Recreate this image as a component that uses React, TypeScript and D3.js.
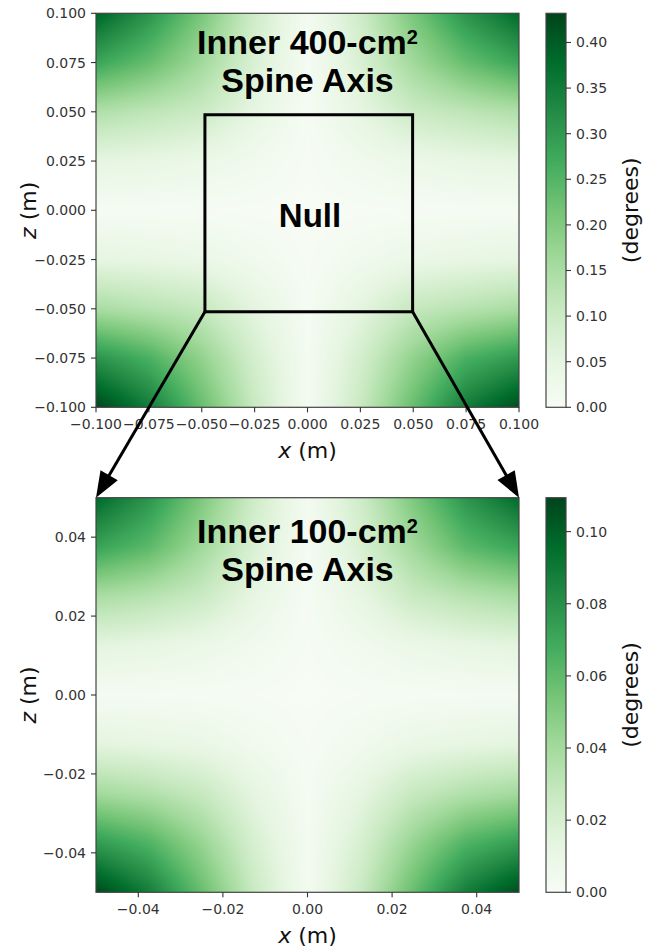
import React, { useMemo } from 'react';
import * as d3 from 'd3';

const WIDTH = 658;
const HEIGHT = 952;

// Brewer "Greens" ramp, evenly spaced from 0 to vmax
const GREENS = ['#f7fcf5', '#e5f5e0', '#c7e9c0', '#a1d99b', '#74c476', '#41ab5d', '#238b45', '#006d2c', '#00441b'];

// Outer 400-cm² field (degrees); rows run from z = +0.1 down to z = -0.1
const OUTER_X = [-0.1, -0.075, -0.05, -0.025, 0, 0.025, 0.05, 0.075, 0.1];
const OUTER_Z = [0.1, 0.075, 0.05, 0.025, 0, -0.025, -0.05, -0.075, -0.1];
const OUTER_VALUES = [
  [0.39, 0.31, 0.21, 0.095, 0.010, 0.095, 0.21, 0.31, 0.38],
  [0.28, 0.23, 0.16, 0.075, 0.008, 0.075, 0.16, 0.23, 0.28],
  [0.14, 0.12, 0.10, 0.05, 0.005, 0.05, 0.10, 0.12, 0.14],
  [0.05, 0.045, 0.035, 0.02, 0.003, 0.02, 0.035, 0.045, 0.05],
  [0.006, 0.005, 0.004, 0.002, 0.0, 0.002, 0.004, 0.005, 0.006],
  [0.05, 0.045, 0.037, 0.02, 0.003, 0.02, 0.037, 0.045, 0.05],
  [0.15, 0.13, 0.11, 0.055, 0.006, 0.055, 0.11, 0.13, 0.15],
  [0.31, 0.26, 0.18, 0.085, 0.010, 0.085, 0.18, 0.26, 0.30],
  [0.43, 0.35, 0.23, 0.105, 0.010, 0.105, 0.23, 0.35, 0.42],
];
const OUTER_VMAX = 0.432;
const OUTER_TICKS = [-0.1, -0.075, -0.05, -0.025, 0, 0.025, 0.05, 0.075, 0.1];
const OUTER_CBAR_TICKS = [0, 0.05, 0.1, 0.15, 0.2, 0.25, 0.3, 0.35, 0.4];

// Inner 100-cm² field (degrees); rows run from z = +0.05 down to z = -0.05
const INNER_X = [-0.05, -0.0375, -0.025, -0.0125, 0, 0.0125, 0.025, 0.0375, 0.05];
const INNER_Z = [0.05, 0.0375, 0.025, 0.0125, 0, -0.0125, -0.025, -0.0375, -0.05];
const INNER_VALUES = [
  [0.097, 0.078, 0.052, 0.024, 0.003, 0.024, 0.052, 0.078, 0.096],
  [0.072, 0.061, 0.041, 0.019, 0.002, 0.019, 0.041, 0.061, 0.071],
  [0.038, 0.033, 0.026, 0.012, 0.0015, 0.012, 0.026, 0.033, 0.038],
  [0.014, 0.012, 0.009, 0.005, 0.001, 0.005, 0.009, 0.012, 0.014],
  [0.002, 0.002, 0.0015, 0.001, 0.0, 0.001, 0.0015, 0.002, 0.002],
  [0.014, 0.012, 0.010, 0.005, 0.001, 0.005, 0.010, 0.012, 0.014],
  [0.040, 0.035, 0.027, 0.013, 0.002, 0.013, 0.027, 0.035, 0.040],
  [0.075, 0.064, 0.044, 0.020, 0.003, 0.020, 0.044, 0.064, 0.074],
  [0.108, 0.088, 0.058, 0.026, 0.003, 0.026, 0.058, 0.088, 0.106],
];
const INNER_VMAX = 0.1094;
const INNER_TICKS = [-0.04, -0.02, 0, 0.02, 0.04];
const INNER_CBAR_TICKS = [0, 0.02, 0.04, 0.06, 0.08, 0.1];

// Null region drawn on the outer panel (m)
const NULL_BOX = { x0: -0.0485, x1: 0.0497, z0: -0.0515, z1: 0.0485 };

const TICK_FONT = '"DejaVu Sans", sans-serif';
const TITLE_FONT = '"Liberation Sans", Arial, sans-serif';

const fmt = (digits: number) => (d: number) =>
  (d < 0 ? '\u2212' : '') + Math.abs(d).toFixed(digits);

function sampleGrid(xs: number[], zs: number[], vals: number[][], x: number, z: number) {
  // xs ascending, zs descending
  let i = d3.bisectRight(xs, x) - 1;
  i = Math.max(0, Math.min(xs.length - 2, i));
  const zAsc = zs.map((v) => -v);
  let j = d3.bisectRight(zAsc, -z) - 1;
  j = Math.max(0, Math.min(zs.length - 2, j));
  const t = Math.max(0, Math.min(1, (x - xs[i]) / (xs[i + 1] - xs[i])));
  const u = Math.max(0, Math.min(1, (z - zs[j]) / (zs[j + 1] - zs[j])));
  const a = vals[j][i], b = vals[j][i + 1], c = vals[j + 1][i], e = vals[j + 1][i + 1];
  return (1 - u) * ((1 - t) * a + t * b) + u * ((1 - t) * c + t * e);
}

type PanelProps = {
  id: string;
  xs: number[];
  zs: number[];
  vals: number[][];
  vmax: number;
  domain: number;
  ticks: number[];
  tickFmt: (d: number) => string;
  cbarTicks: number[];
  cbarFmt: (d: number) => string;
  top: number;
  bottom: number;
  titleNum: string;
  titleY: number;
};

const PLOT_LEFT = 96;
const PLOT_RIGHT = 519;
const CBAR_LEFT = 546;
const CBAR_RIGHT = 566;

function makeScales(domain: number, top: number, bottom: number) {
  const x = d3.scaleLinear().domain([-domain, domain]).range([PLOT_LEFT, PLOT_RIGHT]);
  const y = d3.scaleLinear().domain([-domain, domain]).range([bottom, top]);
  return { x, y };
}

function Panel(p: PanelProps) {
  const { x, y } = makeScales(p.domain, p.top, p.bottom);
  const color = useMemo(
    () =>
      d3
        .scaleLinear<string>()
        .domain(GREENS.map((_, i) => (i / (GREENS.length - 1)) * p.vmax))
        .range(GREENS)
        .interpolate(d3.interpolateRgb)
        .clamp(true),
    [p.vmax]
  );

  const w = Math.round(PLOT_RIGHT - PLOT_LEFT);
  const h = Math.round(p.bottom - p.top);

  const url = useMemo(() => {
    const canvas = document.createElement('canvas');
    canvas.width = w;
    canvas.height = h;
    const ctx = canvas.getContext('2d');
    if (!ctx) return '';
    const img = ctx.createImageData(w, h);
    for (let r = 0; r < h; r++) {
      const zv = y.invert(p.top + r + 0.5);
      for (let c = 0; c < w; c++) {
        const xv = x.invert(PLOT_LEFT + c + 0.5);
        const v = sampleGrid(p.xs, p.zs, p.vals, xv, zv);
        const col = d3.rgb(color(v));
        const k = (r * w + c) * 4;
        img.data[k] = col.r;
        img.data[k + 1] = col.g;
        img.data[k + 2] = col.b;
        img.data[k + 3] = 255;
      }
    }
    ctx.putImageData(img, 0, 0);
    return canvas.toDataURL();
  }, [w, h]);

  const cbarScale = d3.scaleLinear().domain([0, p.vmax]).range([p.bottom, p.top]);
  const midY = (p.top + p.bottom) / 2;
  const midX = (PLOT_LEFT + PLOT_RIGHT) / 2;
  const tickColor = '#333';

  return (
    <g>
      <defs>
        <linearGradient id={`grad-${p.id}`} x1="0" y1="1" x2="0" y2="0">
          {GREENS.map((c, i) => (
            <stop key={i} offset={i / (GREENS.length - 1)} stopColor={c} />
          ))}
        </linearGradient>
      </defs>
      <image href={url} x={PLOT_LEFT} y={p.top} width={PLOT_RIGHT - PLOT_LEFT} height={p.bottom - p.top} preserveAspectRatio="none" />
      <rect x={PLOT_LEFT} y={p.top} width={PLOT_RIGHT - PLOT_LEFT} height={p.bottom - p.top} fill="none" stroke="#444" strokeWidth={1.2} />

      {/* x ticks */}
      {p.ticks.map((t) => (
        <g key={`xt${t}`}>
          <line x1={x(t)} x2={x(t)} y1={p.bottom} y2={p.bottom + 5} stroke={tickColor} strokeWidth={1.1} />
          <text x={x(t)} y={p.bottom + 22} textAnchor="middle" fontFamily={TICK_FONT} fontSize={14} fill={tickColor}>
            {p.tickFmt(t)}
          </text>
        </g>
      ))}
      {/* z ticks */}
      {p.ticks.map((t) => (
        <g key={`zt${t}`}>
          <line x1={PLOT_LEFT - 5} x2={PLOT_LEFT} y1={y(t)} y2={y(t)} stroke={tickColor} strokeWidth={1.1} />
          <text x={PLOT_LEFT - 10} y={y(t) + 5} textAnchor="end" fontFamily={TICK_FONT} fontSize={14} fill={tickColor}>
            {p.tickFmt(t)}
          </text>
        </g>
      ))}

      <text x={midX} y={p.bottom + 51} textAnchor="middle" fontFamily={TICK_FONT} fontSize={22} fill="#111">
        <tspan fontStyle="italic">x</tspan> (m)
      </text>
      <text transform={`translate(36,${midY}) rotate(-90)`} textAnchor="middle" fontFamily={TICK_FONT} fontSize={22} fill="#111">
        <tspan fontStyle="italic">z</tspan> (m)
      </text>

      {/* colorbar */}
      <rect x={CBAR_LEFT} y={p.top} width={CBAR_RIGHT - CBAR_LEFT} height={p.bottom - p.top} fill={`url(#grad-${p.id})`} stroke="#444" strokeWidth={1.2} />
      {p.cbarTicks.map((t) => (
        <g key={`ct${t}`}>
          <line x1={CBAR_RIGHT} x2={CBAR_RIGHT + 5} y1={cbarScale(t)} y2={cbarScale(t)} stroke={tickColor} strokeWidth={1.1} />
          <text x={CBAR_RIGHT + 10} y={cbarScale(t) + 5} fontFamily={TICK_FONT} fontSize={14} fill={tickColor}>
            {p.cbarFmt(t)}
          </text>
        </g>
      ))}
      <text transform={`translate(638,${midY}) rotate(-90)`} textAnchor="middle" fontFamily={TICK_FONT} fontSize={22} fill="#111">
        (degrees)
      </text>

      {/* title */}
      <text x={midX} y={p.titleY} textAnchor="middle" fontFamily={TITLE_FONT} fontWeight="bold" fontSize={34} fill="#000">
        Inner {p.titleNum}-cm
        <tspan fontSize={20} dy={-10}>2</tspan>
      </text>
      <text x={midX} y={p.titleY + 38} textAnchor="middle" fontFamily={TITLE_FONT} fontWeight="bold" fontSize={34} fill="#000">
        Spine Axis
      </text>
    </g>
  );
}

function Arrow({ x1, y1, x2, y2 }: { x1: number; y1: number; x2: number; y2: number }) {
  const len = Math.hypot(x2 - x1, y2 - y1);
  const dx = (x2 - x1) / len;
  const dy = (y2 - y1) / len;
  const headLen = 26;
  const hw = 10;
  const bx = x2 - dx * headLen;
  const by = y2 - dy * headLen;
  const px = -dy;
  const py = dx;
  const pts = [
    [x2, y2],
    [bx + px * hw, by + py * hw],
    [bx - px * hw, by - py * hw],
  ]
    .map((q) => q.join(','))
    .join(' ');
  return (
    <g>
      <line x1={x1} y1={y1} x2={bx + dx * 2} y2={by + dy * 2} stroke="#000" strokeWidth={3} />
      <polygon points={pts} fill="#000" />
    </g>
  );
}

export default function App() {
  const outerTop = 13.3;
  const outerBottom = 407.3;
  const innerTop = 497.7;
  const innerBottom = 892.3;
  const outer = makeScales(0.1, outerTop, outerBottom);
  const inner = makeScales(0.05, innerTop, innerBottom);

  const bx0 = outer.x(NULL_BOX.x0);
  const bx1 = outer.x(NULL_BOX.x1);
  const by0 = outer.y(NULL_BOX.z1);
  const by1 = outer.y(NULL_BOX.z0);

  return (
    <svg width={WIDTH} height={HEIGHT} style={{ position: 'absolute', left: 0, top: 0, background: '#fff' }}>
      <rect x={0} y={0} width={WIDTH} height={HEIGHT} fill="#fff" />
      <Panel
        id="outer"
        xs={OUTER_X}
        zs={OUTER_Z}
        vals={OUTER_VALUES}
        vmax={OUTER_VMAX}
        domain={0.1}
        ticks={OUTER_TICKS}
        tickFmt={fmt(3)}
        cbarTicks={OUTER_CBAR_TICKS}
        cbarFmt={fmt(2)}
        top={outerTop}
        bottom={outerBottom}
        titleNum="400"
        titleY={54}
      />
      <Panel
        id="inner"
        xs={INNER_X}
        zs={INNER_Z}
        vals={INNER_VALUES}
        vmax={INNER_VMAX}
        domain={0.05}
        ticks={INNER_TICKS}
        tickFmt={fmt(2)}
        cbarTicks={INNER_CBAR_TICKS}
        cbarFmt={fmt(2)}
        top={innerTop}
        bottom={innerBottom}
        titleNum="100"
        titleY={543}
      />

      {/* Null region and zoom arrows */}
      <rect x={bx0} y={by0} width={bx1 - bx0} height={by1 - by0} fill="none" stroke="#000" strokeWidth={3} />
      <text x={310} y={227} textAnchor="middle" fontFamily={TITLE_FONT} fontWeight="bold" fontSize={33} fill="#000">
        Null
      </text>
      <Arrow x1={bx0} y1={by1} x2={inner.x(-0.05)} y2={inner.y(0.05)} />
      <Arrow x1={bx1} y1={by1} x2={inner.x(0.05)} y2={inner.y(0.05)} />
    </svg>
  );
}
